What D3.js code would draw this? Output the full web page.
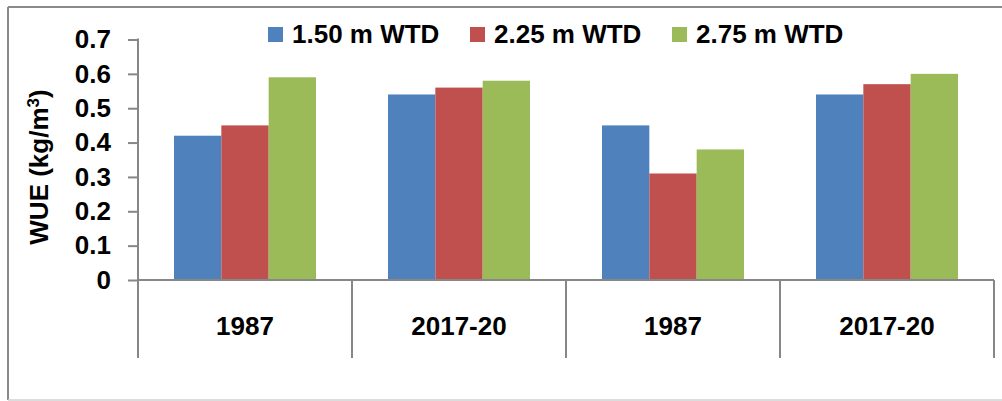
<!DOCTYPE html>
<html lang="en">
<head>
<meta charset="UTF-8">
<title>WUE by water table depth</title>
<script src="https://d3js.org/d3.v7.min.js"></script>
<style>
  body, html { margin: 0; padding: 0; background: #fff; }
  svg text { font-family: "Liberation Sans", Arial, sans-serif; font-weight: bold; fill: #000; }
</style>
</head>
<body>
<div id="chart"></div>
<script>
// chart data
var categories = ["1987", "2017-20", "1987", "2017-20"];
var seriesNames = ["1.50 m WTD", "2.25 m WTD", "2.75 m WTD"];
var wtd150 = [0.42, 0.54, 0.45, 0.54];
var wtd225 = [0.45, 0.56, 0.31, 0.57];
var wtd275 = [0.59, 0.58, 0.38, 0.60];
var yTicks = [0, 0.1, 0.2, 0.3, 0.4, 0.5, 0.6, 0.7];

var colors = ["#4F81BD", "#C0504D", "#9BBB59"];
var seriesValues = [wtd150, wtd225, wtd275];

var W = 1002, H = 401;
var svg = d3.select("#chart").append("svg")
    .attr("width", W).attr("height", H);

// outer frame
svg.append("line").attr("x1", 8).attr("x2", W).attr("y1", 7).attr("y2", 7)
    .attr("stroke", "#8a8a8a").attr("stroke-width", 2);
svg.append("line").attr("x1", 8).attr("x2", 8).attr("y1", 7).attr("y2", 400)
    .attr("stroke", "#8a8a8a").attr("stroke-width", 2);
svg.append("line").attr("x1", 8).attr("x2", W).attr("y1", 400).attr("y2", 400)
    .attr("stroke", "#d0d0d0").attr("stroke-width", 1.5);

var plotLeft = 138, plotRight = 994, y0 = 280, yTop = 39.5, catBottom = 358;
var axisColor = "#878787";

var x0 = d3.scaleBand()
    .domain(d3.range(categories.length))
    .range([plotLeft, plotRight])
    .padding(0);

var bw = x0.bandwidth();
var x1 = d3.scaleBand()
    .domain(d3.range(seriesNames.length))
    .range([36, bw - 36])
    .padding(0);

var y = d3.scaleLinear().domain([0, 0.7]).range([y0, yTop]);

// bars
seriesValues.forEach(function(vals, s) {
  svg.append("g").selectAll("rect")
    .data(vals)
    .enter().append("rect")
      .attr("x", function(d, i) { return x0(i) + x1(s); })
      .attr("y", function(d) { return y(d); })
      .attr("width", x1.bandwidth())
      .attr("height", function(d) { return y0 - y(d); })
      .attr("fill", colors[s]);
});

// y axis
var yAxis = svg.append("g")
    .attr("transform", "translate(" + plotLeft + ",0)")
    .call(d3.axisLeft(y).tickValues(yTicks)
      .tickFormat(function(d) { return d === 0 ? "0" : d3.format(".1f")(d); })
      .tickSize(10).tickPadding(17));
yAxis.select(".domain").remove();
yAxis.selectAll(".tick line").attr("stroke", axisColor).attr("stroke-width", 2);
yAxis.selectAll(".tick text").style("font-size", "26px").attr("fill", "#000");
svg.append("line")
    .attr("x1", plotLeft).attr("x2", plotLeft)
    .attr("y1", yTop - 1).attr("y2", catBottom)
    .attr("stroke", axisColor).attr("stroke-width", 2);

// category axis
svg.append("line")
    .attr("x1", plotLeft).attr("x2", plotRight)
    .attr("y1", y0).attr("y2", y0)
    .attr("stroke", axisColor).attr("stroke-width", 2);
d3.range(categories.length + 1).forEach(function(i) {
  var xx = i < categories.length ? x0(i) : plotRight;
  svg.append("line")
    .attr("x1", xx).attr("x2", xx)
    .attr("y1", y0).attr("y2", catBottom)
    .attr("stroke", axisColor).attr("stroke-width", 2);
});
svg.append("g").selectAll("text")
  .data(categories)
  .enter().append("text")
    .attr("x", function(d, i) { return x0(i) + bw / 2; })
    .attr("y", 335)
    .attr("text-anchor", "middle")
    .style("font-size", "26px")
    .text(function(d) { return d; });

// y axis title
var title = svg.append("text")
    .attr("transform", "translate(48,167) rotate(-90)")
    .attr("text-anchor", "middle")
    .style("font-size", "26px");
title.append("tspan").text("WUE (kg/m");
title.append("tspan").attr("dy", -9).style("font-size", "17px").text("3");
title.append("tspan").attr("dy", 9).text(")");

// legend
var legendX = [268, 470, 672];
seriesNames.forEach(function(name, i) {
  svg.append("rect")
    .attr("x", legendX[i]).attr("y", 27)
    .attr("width", 15).attr("height", 15)
    .attr("fill", colors[i]);
  svg.append("text")
    .attr("x", legendX[i] + 24).attr("y", 43)
    .style("font-size", "26px")
    .text(name);
});
</script>
</body>
</html>
